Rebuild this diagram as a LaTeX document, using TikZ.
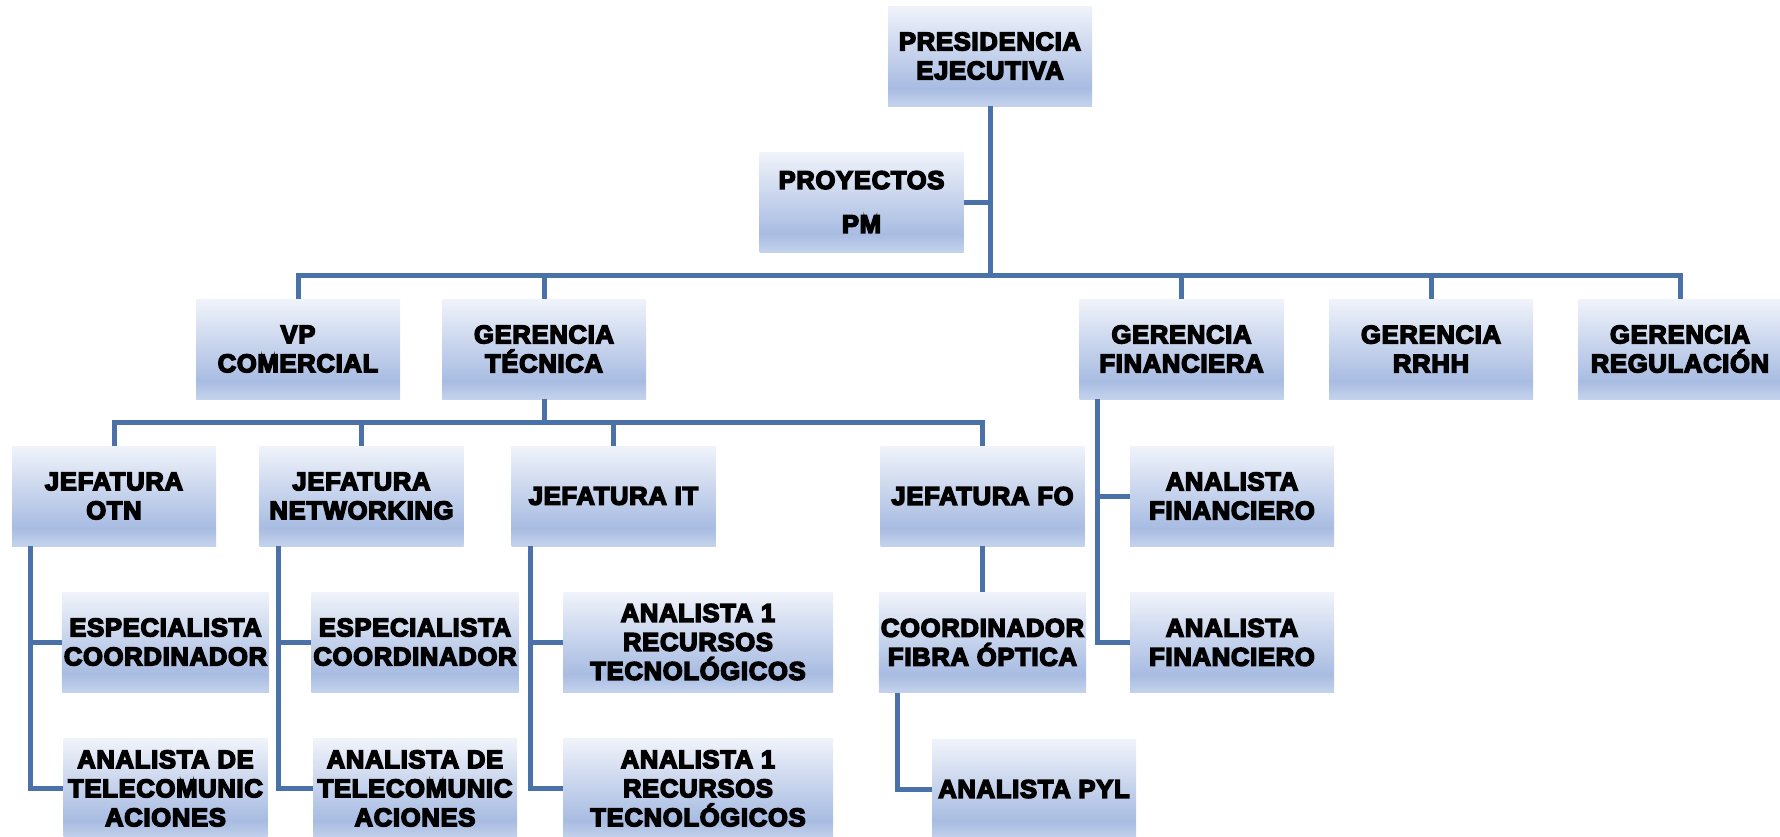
\documentclass[tikz,border=0pt]{standalone}
\usepackage{fontspec}
\newfontfamily\heavyfont{Liberation Sans Bold}[FakeBold=6, LetterSpace=3]
\usepackage{xcolor}
\usepackage{tikz}
\usetikzlibrary{positioning}

\definecolor{shadetop}{HTML}{F0F3FA}
\definecolor{shadelow}{HTML}{A8BCE2}
\definecolor{shadefoot}{HTML}{C4D2EC}
\definecolor{linkblue}{HTML}{4A72A8}
\pgfdeclareverticalshading{boxfill}{100bp}{color(0bp)=(shadefoot); color(25bp)=(shadefoot);
  color(34bp)=(shadelow); color(75bp)=(shadetop); color(100bp)=(shadetop)}

\begin{document}
\begin{tikzpicture}[
  x=1pt, y=-1pt,
  font=\heavyfont\fontsize{25.5}{29}\selectfont,
  node distance=46pt,
  unit/.style={shading=boxfill, align=center, inner sep=2pt,
               minimum width=204pt, minimum height=100pt},
  wideunit/.style={unit, minimum width=270pt},
  conn/.style={draw=linkblue, line width=5pt},
]
\useasboundingbox (0,0) rectangle (1780,836);

% Top: presidency and projects
\node[unit] (pres) at (990,56) {PRESIDENCIA\\EJECUTIVA};
\node[unit] (proy) at (861.5,202) {PROYECTOS\\[15pt]PM};

% Second row: management
\node[unit] (vp)    at (298,349)    {VP\\COMERCIAL};
\node[unit] (gtec)  at (544,349)    {GERENCIA\\TÉCNICA};
\node[unit] (gfin)  at (1181.5,349) {GERENCIA\\FINANCIERA};
\node[unit] (grrhh) at (1431,349)   {GERENCIA\\RRHH};
\node[unit] (greg)  at (1680,349)   {GERENCIA\\REGULACIÓN};

% Third row: heads under the technical management
\node[unit] (jotn) at (114,496)   {JEFATURA\\OTN};
\node[unit] (jnet) at (361.5,496) {JEFATURA\\NETWORKING};
\node[unit] (jit)  at (613.5,496) {JEFATURA IT};
\node[unit] (jfo)  at (982.5,496) {JEFATURA FO};

% Staff columns
\node[unit] (espotn) at (165.5,642) {ESPECIALISTA\\COORDINADOR};
\node[unit, below=of espotn] (anaotn) {ANALISTA DE\\TELECOMUNIC\\ACIONES};
\node[unit] (espnet) at (415,642) {ESPECIALISTA\\COORDINADOR};
\node[unit, below=of espnet] (ananet) {ANALISTA DE\\TELECOMUNIC\\ACIONES};
\node[wideunit] (recit1) at (698,642) {ANALISTA 1\\RECURSOS\\TECNOLÓGICOS};
\node[wideunit, below=of recit1] (recit2) {ANALISTA 1\\RECURSOS\\TECNOLÓGICOS};
\node[unit, below=of jfo] (coordfo) {COORDINADOR\\FIBRA ÓPTICA};
\node[unit] (pyl) at (1034,789) {ANALISTA PYL};
\node[unit] (fin1) at (1232,496) {ANALISTA\\FINANCIERO};
\node[unit, below=of fin1] (fin2) {ANALISTA\\FINANCIERO};

% --- buses
\coordinate (bustop) at (0,275);
\coordinate (busmid) at (0,422);

\draw[conn] (pres.south) -- (pres.south |- bustop);
\draw[conn] (proy.east) -- (proy.east -| pres.south);
\draw[conn] (vp.north) |- (greg.north |- bustop) -- (greg.north);
\foreach \n in {gtec,gfin,grrhh}
  \draw[conn] (\n.north) -- (\n.north |- bustop);

\draw[conn] (gtec.south) -- (gtec.south |- busmid);
\draw[conn] (jotn.north) |- (jfo.north |- busmid) -- (jfo.north);
\foreach \n in {jnet,jit}
  \draw[conn] (\n.north) -- (\n.north |- busmid);

% --- side chains (line runs down the left of the parent)
\draw[conn] ([xshift=19pt]jotn.south west) |- (anaotn.west);
\draw[conn] ([xshift=19pt]jotn.south west |- espotn.west) -- (espotn.west);
\draw[conn] ([xshift=19pt]jnet.south west) |- (ananet.west);
\draw[conn] ([xshift=19pt]jnet.south west |- espnet.west) -- (espnet.west);
\draw[conn] ([xshift=19pt]jit.south west) |- (recit2.west);
\draw[conn] ([xshift=19pt]jit.south west |- recit1.west) -- (recit1.west);
\draw[conn] ([xshift=18pt]gfin.south west) |- (fin2.west);
\draw[conn] ([xshift=18pt]gfin.south west |- fin1.west) -- (fin1.west);

\draw[conn] (jfo) -- (coordfo);
\draw[conn] ([xshift=19pt]coordfo.south west) |- (pyl.west);

\end{tikzpicture}
\end{document}
